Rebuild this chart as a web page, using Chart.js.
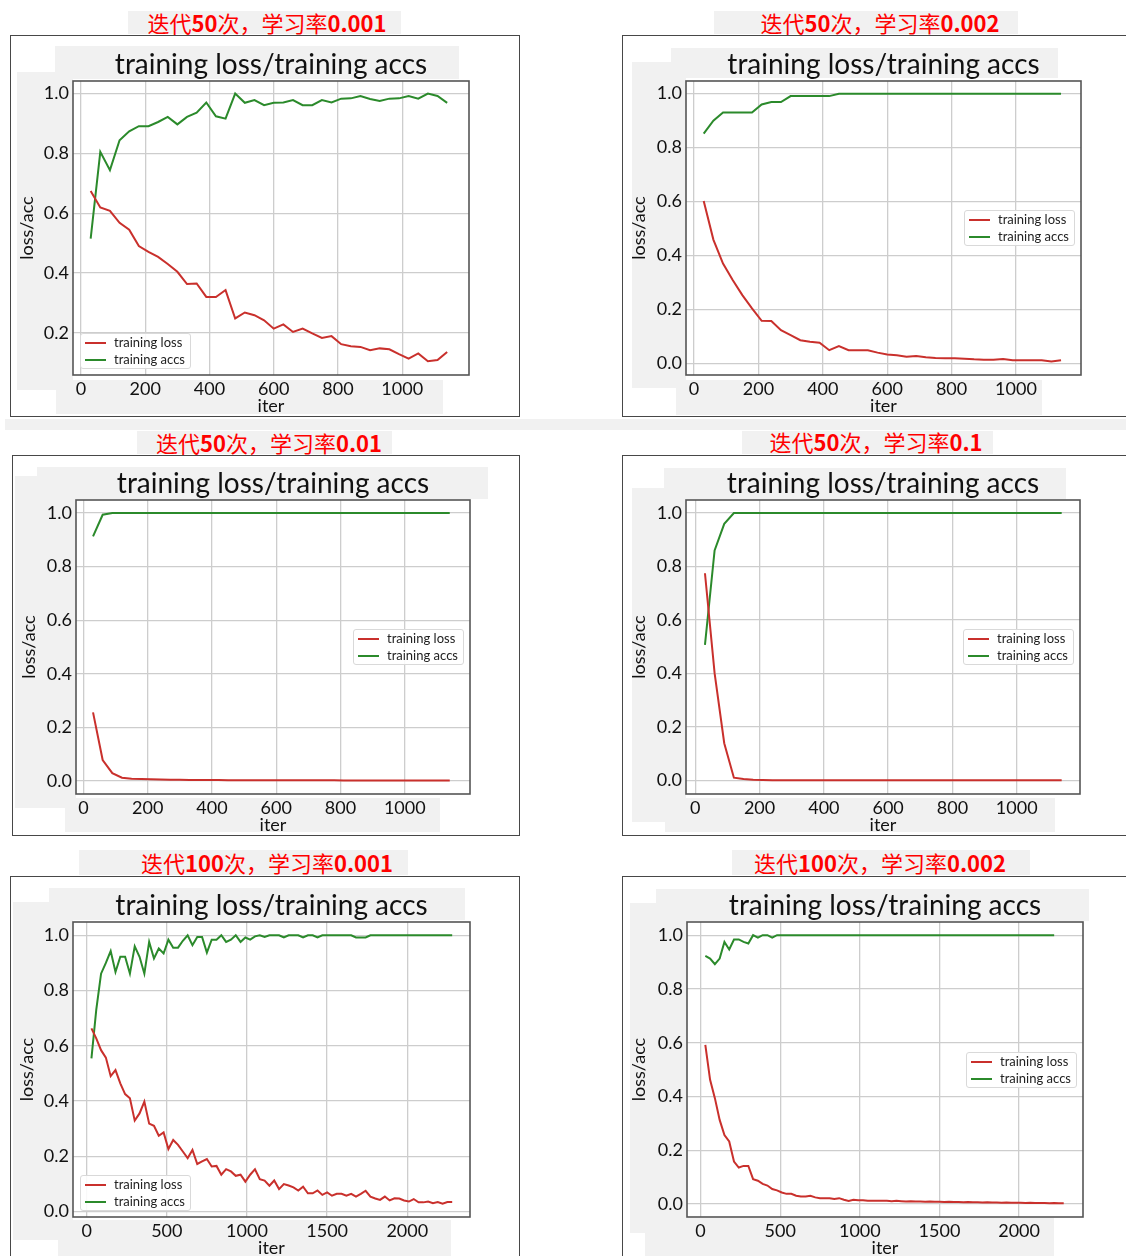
<!DOCTYPE html>
<html>
<head>
<meta charset="utf-8">
<script src="https://cdn.jsdelivr.net/npm/chart.js@4.4.1/dist/chart.umd.min.js"></script>
<style>
  html, body { margin: 0; padding: 0; background: #fff; }
  body { position: relative; width: 1126px; height: 1256px; overflow: hidden; font-family: Lato, sans-serif; }
  .bg { position: absolute; background: #f1f1f1; }
  .frame { position: absolute; border: 1.5px solid #474747; box-sizing: border-box; }
  .lbl { position: absolute; color: #f00; font-family: "Noto Sans CJK SC", sans-serif; font-size: 22px; line-height: 1; white-space: nowrap; transform: translate(-50%, -50%); }
  .lbl b { font-weight: bold; }
  canvas { position: absolute; }
  .legend { position: absolute; width: 111px; height: 36px; box-sizing: border-box; border: 1px solid #d9d9d9; border-radius: 3px; background: rgba(255,255,255,0.88); font: 13px Lato, sans-serif; color: #222; }
  .legend .ln { position: absolute; left: 4px; width: 21px; height: 2px; }
  .legend .tx { position: absolute; left: 33px; line-height: 16px; white-space: nowrap; }
</style>
</head>
<body>
<script>
// iterations logged every 30 steps
const iter50 = [30,60,90,120,150,180,210,240,270,300,330,360,390,420,450,480,510,540,570,600,
  630,660,690,720,750,780,810,840,870,900,930,960,990,1020,1050,1080,1110,1140];
const iter100 = [30,60,90,120,150,180,210,240,270,300,330,360,390,420,450,480,510,540,570,600,
  630,660,690,720,750,780,810,840,870,900,930,960,990,1020,1050,1080,1110,1140,1170,1200,
  1230,1260,1290,1320,1350,1380,1410,1440,1470,1500,1530,1560,1590,1620,1650,1680,1710,1740,1770,1800,
  1830,1860,1890,1920,1950,1980,2010,2040,2070,2100,2130,2160,2190,2220,2250,2280];

// 50 epochs, lr 0.001
const loss_e50_lr0001 = [0.674,0.619,0.608,0.568,0.545,0.490,0.471,0.454,0.430,0.404,
  0.363,0.365,0.320,0.320,0.343,0.248,0.268,0.259,0.242,0.214,0.228,0.203,0.214,0.198,0.183,
  0.189,0.162,0.155,0.153,0.142,0.148,0.145,0.129,0.114,0.131,0.105,0.109,0.136];
const acc_e50_lr0001 = [0.515,0.805,0.744,0.844,0.874,0.891,0.891,0.905,0.922,0.897,
  0.922,0.936,0.970,0.924,0.916,1.000,0.969,0.978,0.961,0.969,0.970,0.978,0.961,0.961,0.978,
  0.970,0.983,0.984,0.992,0.982,0.975,0.983,0.984,0.992,0.983,1.000,0.992,0.969];

// 50 epochs, lr 0.002
const loss_e50_lr0002 = [0.602,0.459,0.370,0.309,0.253,0.204,0.158,0.157,0.123,0.105,
  0.086,0.080,0.077,0.049,0.064,0.049,0.049,0.049,0.040,0.033,0.030,0.025,0.027,0.023,0.020,
  0.019,0.019,0.017,0.015,0.014,0.014,0.016,0.012,0.012,0.012,0.012,0.007,0.012];
const acc_e50_lr0002 = [0.852,0.900,0.930,0.930,0.930,0.930,0.960,0.969,0.969,0.991,
  0.991,0.991,0.991,0.991,1,1,1,1,1,1,1,1,1,1,1,1,1,1,1,1,1,1,1,1,1,1,1,1];

// 50 epochs, lr 0.01
const loss_e50_lr001 = [0.256,0.078,0.029,0.012,0.008,0.007,0.006,0.005,0.004,0.004,
  0.003,0.003,0.003,0.003,0.002,0.002,0.002,0.002,0.002,0.002,0.002,0.002,0.002,0.002,0.002,
  0.002,0.001,0.001,0.001,0.001,0.001,0.001,0.001,0.001,0.001,0.001,0.001,0.001];
const acc_e50_lr001 = [0.913,0.994,1,1,1,1,1,1,1,1,1,1,1,1,1,1,1,1,1,1,
  1,1,1,1,1,1,1,1,1,1,1,1,1,1,1,1,1,1];

// 50 epochs, lr 0.1
const loss_e50_lr01 = [0.775,0.401,0.139,0.010,0.005,0.002,0.001,0,0,0,0,0,0,0,0,0,0,0,0,0,
  0,0,0,0,0,0,0,0,0,0,0,0,0,0,0,0,0,0];
const acc_e50_lr01 = [0.507,0.860,0.960,1,1,1,1,1,1,1,1,1,1,1,1,1,1,1,1,1,
  1,1,1,1,1,1,1,1,1,1,1,1,1,1,1,1,1,1];

// 100 epochs, lr 0.001
const loss_e100_lr0001 = [0.663,0.627,0.584,0.557,0.490,0.512,0.464,0.425,0.410,0.329,
  0.355,0.398,0.318,0.310,0.274,0.286,0.226,0.259,0.241,0.217,0.193,0.223,0.172,0.181,0.190,
  0.163,0.165,0.133,0.153,0.145,0.129,0.133,0.108,0.133,0.153,0.117,0.112,0.093,
  0.112,0.081,0.099,0.094,0.087,0.076,0.090,0.066,0.066,0.076,0.060,0.069,0.057,0.064,0.064,
  0.057,0.064,0.054,0.064,0.075,0.054,0.047,0.042,0.054,0.040,0.048,0.047,0.040,0.036,0.045,
  0.033,0.033,0.036,0.030,0.034,0.028,0.034,0.034];
const acc_e100_lr0001 = [0.554,0.730,0.861,0.900,0.943,0.867,0.922,0.922,0.861,0.960,
  0.922,0.861,0.976,0.916,0.952,0.934,0.984,0.955,0.955,0.980,1.000,0.964,0.994,0.994,0.937,
  0.984,0.984,1.000,0.976,0.984,1.000,0.976,0.992,0.984,0.996,1.000,0.994,1.000,
  1,1,0.992,1,1,1,0.992,1,1,0.992,1,1,1,1,1,1,1,0.992,0.992,0.992,
  1,1,1,1,1,1,1,1,1,1,1,1,1,1,1,1,1,1];

// 100 epochs, lr 0.002
const loss_e100_lr0002 = [0.592,0.462,0.394,0.313,0.257,0.233,0.158,0.136,0.142,0.142,
  0.093,0.087,0.075,0.069,0.056,0.051,0.043,0.038,0.038,0.031,0.028,0.028,0.031,0.025,0.022,
  0.022,0.022,0.019,0.022,0.016,0.012,0.016,0.014,0.014,0.012,0.012,0.012,0.012,
  0.012,0.011,0.012,0.011,0.010,0.011,0.010,0.010,0.009,0.010,0.009,0.009,0.008,0.009,0.008,
  0.008,0.007,0.008,0.007,0.007,0.006,0.007,0.006,0.006,0.005,0.006,0.005,0.005,0.005,0.004,
  0.005,0.004,0.004,0.004,0.003,0.004,0.003,0.003];
const acc_e100_lr0002 = [0.923,0.913,0.892,0.913,0.975,0.947,0.984,0.984,0.975,0.969,
  1.000,0.991,1.000,1.000,0.991,1,1,1,1,1,1,1,1,1,1,1,1,1,1,1,1,1,1,1,1,1,1,1,
  1,1,1,1,1,1,1,1,1,1,1,1,1,1,1,1,1,1,1,1,1,1,1,1,1,1,1,1,1,1,1,1,1,1,1,1];

const xTicks50 = [0,200,400,600,800,1000];
const xTicks100 = [0,500,1000,1500,2000];
const yTicks = [0,0.2,0.4,0.6,0.8,1.0];
const seriesNames = ['training loss','training accs'];
const chartTitle = 'training loss/training accs';
const xTitle = 'iter';
const yTitle = 'loss/acc';

const panels = [
  {label: ['迭代','50','次，学习率','0.001'], iter: iter50, loss: loss_e50_lr0001, acc: acc_e50_lr0001,
   xTicks: xTicks50, xr: [-25,1208], yr: [0.059,1.042], legend: 'lowerLeft'},
  {label: ['迭代','50','次，学习率','0.002'], iter: iter50, loss: loss_e50_lr0002, acc: acc_e50_lr0002,
   xTicks: xTicks50, xr: [-25,1202], yr: [-0.043,1.047], legend: 'centerRight'},
  {label: ['迭代','50','次，学习率','0.01'], iter: iter50, loss: loss_e50_lr001, acc: acc_e50_lr001,
   xTicks: xTicks50, xr: [-23,1203], yr: [-0.049,1.049], legend: 'centerRight'},
  {label: ['迭代','50','次，学习率','0.1'], iter: iter50, loss: loss_e50_lr01, acc: acc_e50_lr01,
   xTicks: xTicks50, xr: [-29,1197], yr: [-0.051,1.049], legend: 'centerRight'},
  {label: ['迭代','100','次，学习率','0.001'], iter: iter100, loss: loss_e100_lr0001, acc: acc_e100_lr0001,
   xTicks: xTicks100, xr: [-85,2391], yr: [-0.020,1.048], legend: 'lowerLeft'},
  {label: ['迭代','100','次，学习率','0.002'], iter: iter100, loss: loss_e100_lr0002, acc: acc_e100_lr0002,
   xTicks: xTicks100, xr: [-85,2401], yr: [-0.048,1.049], legend: 'centerRight'}
];

// page layout (pixels): frame box, plot box [l,t,r,b], red label centre, label backdrop, grey backdrops
const layouts = [
  {frame: [10,35,510,382], plot: [73,81,469,375], lbl: [267,22], lblBg: [128,11,273,23],
   bgs: [[55,46,404,33],[17,72,56,318],[56,380,387,34]]},
  {frame: [622,35,510,382], plot: [686,81,1081,375], lbl: [880,21.5], lblBg: [714,11,304,23],
   bgs: [[671,48,387,30],[632,62,54,326],[676,380,366,35]]},
  {frame: [12,455,508,381], plot: [76,500,470,794], lbl: [269,441.5], lblBg: [137,431,255,23],
   bgs: [[37,467,451,32],[15,476,61,332],[65,798,375,34]]},
  {frame: [622,455,510,381], plot: [686,500,1080,794], lbl: [876,441], lblBg: [742,431,251,23],
   bgs: [[664,468,402,31],[632,488,54,334],[665,798,390,34]]},
  {frame: [10,876,510,390], plot: [73,922,470,1217], lbl: [267,862], lblBg: [79,850,329,25],
   bgs: [[49,888,416,32],[13,902,60,338],[58,1220,393,36]]},
  {frame: [622,876,510,390], plot: [687,922,1083,1217], lbl: [880,862], lblBg: [732,850,298,25],
   bgs: [[656,889,433,32],[630,903,57,330],[645,1218,409,38]]}
];

const RED = '#c9302c';
const GREEN = '#2b8a2b';
const GRID = '#cdcdcd';
const TXT = '#111';

function box(cls, r){
  const d = document.createElement('div');
  d.className = cls;
  d.style.left = r[0] + 'px'; d.style.top = r[1] + 'px';
  d.style.width = r[2] + 'px'; d.style.height = r[3] + 'px';
  document.body.appendChild(d);
  return d;
}

const plotBox = {
  id: 'plotBox',
  beforeDraw(chart){
    const a = chart.chartArea, c = chart.ctx;
    c.save(); c.fillStyle = '#fff'; c.fillRect(a.left, a.top, a.width, a.height); c.restore();
  },
  afterDatasetsDraw(chart){
    const a = chart.chartArea, c = chart.ctx;
    c.save(); c.strokeStyle = '#555'; c.lineWidth = 1.6;
    c.strokeRect(a.left, a.top, a.width, a.height); c.restore();
  }
};

function make_legend(chart, canvasLeft, canvasTop, where){
  const a = chart.chartArea;
  const lg = document.createElement('div');
  lg.className = 'legend';
  let left, top;
  if(where === 'lowerLeft'){
    left = a.left + 7; top = a.bottom - 6 - 36;
  } else {
    left = a.right - 6 - 111; top = (a.top + a.bottom) / 2 - 18;
  }
  lg.style.left = (canvasLeft + left) + 'px';
  lg.style.top = (canvasTop + top) + 'px';
  chart.data.datasets.forEach(function(ds, i){
    const y = 9 + i * 17;
    const ln = document.createElement('div');
    ln.className = 'ln'; ln.style.top = (y - 1) + 'px'; ln.style.background = ds.borderColor;
    const tx = document.createElement('div');
    tx.className = 'tx'; tx.style.top = (y - 9) + 'px'; tx.textContent = ds.label;
    lg.appendChild(ln); lg.appendChild(tx);
  });
  document.body.appendChild(lg);
}

// light grey band between first and second row
box('bg', [5,419,1121,11]);

panels.forEach(function(p, idx){
  const L = layouts[idx];
  L.bgs.forEach(r => box('bg', r));
  box('bg', L.lblBg);
  box('frame', L.frame);

  const lbl = document.createElement('div');
  lbl.className = 'lbl';
  lbl.style.left = L.lbl[0] + 'px'; lbl.style.top = L.lbl[1] + 'px';
  lbl.innerHTML = `${p.label[0]}<b>${p.label[1]}</b>${p.label[2]}<b>${p.label[3]}</b>`;
  document.body.appendChild(lbl);

  const [fl, ft, fw] = L.frame;
  const [pl, pt, pr, pb] = L.plot;
  const ch = pb + 42 - ft;
  const cv = document.createElement('canvas');
  cv.width = fw; cv.height = ch;
  cv.style.left = fl + 'px'; cv.style.top = ft + 'px';
  cv.style.width = fw + 'px'; cv.style.height = ch + 'px';
  document.body.appendChild(cv);

  const chart = new Chart(cv, {
    type: 'line',
    data: {
      datasets: [
        {label: seriesNames[0], data: p.iter.map((x, i) => ({x: x, y: p.loss[i]})),
         borderColor: RED, backgroundColor: RED, borderWidth: 2, pointRadius: 0, tension: 0},
        {label: seriesNames[1], data: p.iter.map((x, i) => ({x: x, y: p.acc[i]})),
         borderColor: GREEN, backgroundColor: GREEN, borderWidth: 2, pointRadius: 0, tension: 0}
      ]
    },
    options: {
      responsive: false,
      animation: false,
      devicePixelRatio: 1,
      events: [],
      layout: { padding: { left: 0, top: 0, bottom: 0, right: fl + fw - pr } },
      plugins: {
        legend: { display: false },
        tooltip: { enabled: false },
        title: {
          display: true, text: chartTitle, fullSize: false, color: TXT,
          font: { family: 'Lato', size: 28, weight: 'normal', lineHeight: '32px' },
          padding: { top: pt - ft - 32, bottom: 0 }
        }
      },
      scales: {
        x: {
          type: 'linear', min: p.xr[0], max: p.xr[1],
          afterFit: function(s){ s.height = 42; },
          afterBuildTicks: function(s){
            s.ticks = p.xTicks.filter(v => v >= s.min && v <= s.max).map(v => ({value: v}));
          },
          grid: { color: GRID, lineWidth: 1.3, drawTicks: false },
          border: { display: false },
          ticks: { padding: 3, color: TXT, autoSkip: false, maxRotation: 0,
                   font: { family: 'Lato', size: 18 }, callback: v => String(v) },
          title: { display: true, text: xTitle, color: TXT, font: { family: 'Lato', size: 18 },
                   padding: { top: 0, bottom: 0 } }
        },
        y: {
          type: 'linear', min: p.yr[0], max: p.yr[1],
          afterFit: function(s){ s.width = pl - fl; },
          afterBuildTicks: function(s){
            s.ticks = yTicks.filter(v => v >= s.min && v <= s.max).map(v => ({value: v}));
          },
          grid: { color: GRID, lineWidth: 1.3, drawTicks: false },
          border: { display: false },
          ticks: { padding: 4, color: TXT, font: { family: 'Lato', size: 18 },
                   callback: v => v.toFixed(1) },
          title: { display: true, text: yTitle, color: TXT, font: { family: 'Lato', size: 18 },
                   padding: { top: 6, bottom: 0 } }
        }
      }
    },
    plugins: [plotBox]
  });
  make_legend(chart, fl, ft, p.legend);
});
</script>
</body>
</html>
